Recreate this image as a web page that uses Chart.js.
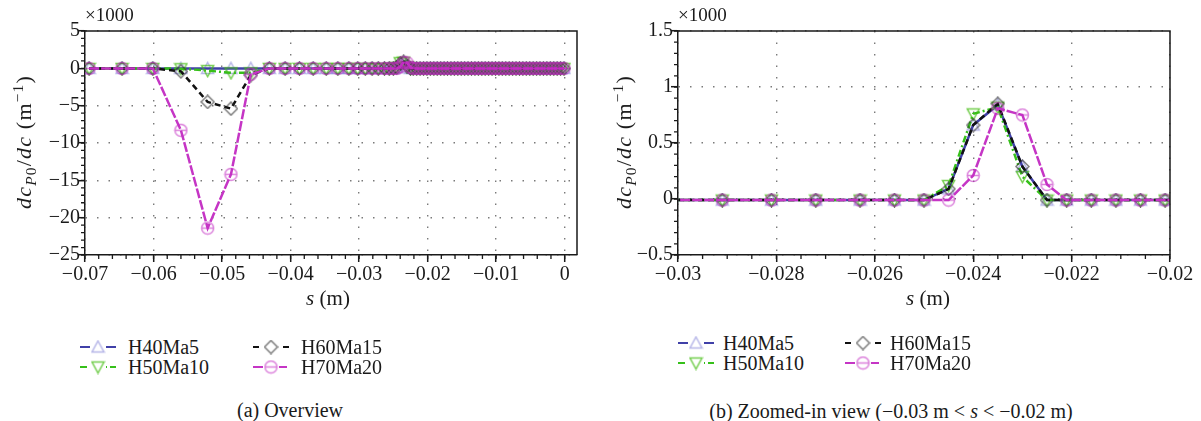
<!DOCTYPE html>
<html>
<head>
<meta charset="utf-8">
<script src="https://cdn.jsdelivr.net/npm/chart.js@4.4.0/dist/chart.umd.min.js"></script>
<style>
  body { margin: 0; background: #fff; width: 1201px; height: 421px; position: relative; overflow: hidden;
         font-family: "Liberation Serif", "DejaVu Serif", serif; color: #1a1a1a; }
  canvas.plot { position: absolute; top: 0; }
  .t { position: absolute; white-space: nowrap; line-height: 1; }
  .ytitle { font-size: 22px; letter-spacing: 1.2px; transform: translate(-50%, -50%) rotate(-90deg); }
  .xtitle { font-size: 21px; transform: translate(-50%, -50%); }
  .mult { font-size: 19px; }
  .cap { font-size: 20px; transform: translateX(-50%); }
  sub { font-size: 70%; vertical-align: -0.35em; line-height: 0; }
  sup { font-size: 70%; vertical-align: 0.55em; line-height: 0; }
  .leg { position: absolute; font-size: 20px; white-space: nowrap; line-height: 1; }
  .leg canvas { position: absolute; left: 0; top: -8px; }
  .leg span { position: absolute; top: -10px; }
</style>
</head>
<body>
<canvas id="overview" class="plot" width="600" height="300" style="left:0"></canvas>
<canvas id="zoomed" class="plot" width="601" height="300" style="left:600px"></canvas>

<div class="t mult" style="left:85px; top:5px">×1000</div>
<div class="t mult" style="left:678px; top:5px">×1000</div>
<div class="t ytitle" style="left:24px; top:142px"><i>dc</i><sub><i>P</i>0</sub>/<i>dc</i> (m<sup>−1</sup>)</div>
<div class="t ytitle" style="left:624px; top:142px"><i>dc</i><sub><i>P</i>0</sub>/<i>dc</i> (m<sup>−1</sup>)</div>
<div class="t xtitle" style="left:328px; top:298px"><i>s</i> (m)</div>
<div class="t xtitle" style="left:928px; top:298px"><i>s</i> (m)</div>
<div class="t cap" style="left:290px; top:400px">(a) Overview</div>
<div class="t cap" style="left:891px; top:401px">(b) Zoomed-in view (−0.03 m &lt; <i>s</i> &lt; −0.02 m)</div>
<div id="legA"></div>
<div id="legB"></div>

<script>
// arc-length positions s (m)
const sGrid = [
  -0.0694, -0.0646, -0.0601, -0.0560, -0.0521, -0.0487, -0.0458, -0.0431, -0.0408, -0.0387,
  -0.0367, -0.0348, -0.0331, -0.0315, -0.0302, -0.0291, -0.0281, -0.0272, -0.0263, -0.0256,
  -0.0250, -0.0245, -0.0240, -0.0235, -0.0230, -0.0225, -0.0221, -0.0216, -0.0211, -0.0206,
  -0.0201, -0.0196, -0.0191, -0.0186, -0.0181, -0.0176, -0.0171, -0.0166, -0.0161, -0.0156,
  -0.0151, -0.0146, -0.0141, -0.0136, -0.0131, -0.0126, -0.0121, -0.0116, -0.0111, -0.0106,
  -0.0101, -0.0096, -0.0091, -0.0086, -0.0081, -0.0076, -0.0071, -0.0066, -0.0061, -0.0056,
  -0.0051, -0.0046, -0.0041, -0.0036, -0.0031, -0.0026, -0.0021, -0.0016, -0.0011, -0.0006,
  -0.0001
];

// dcP0/dc in units of 1000 m^-1
const h40ma5 = [
  -0.01, -0.01, -0.01, -0.01, -0.02, -0.02, -0.01, -0.01, -0.01, -0.01,
  -0.01, -0.01, -0.01, -0.01, -0.01, -0.01, -0.01, -0.01, -0.01, -0.01,
  -0.01, 0.09, 0.66, 0.84, 0.29, -0.01, -0.01, -0.01, -0.01, -0.01,
  -0.01, -0.01, -0.01, -0.01, -0.01, -0.01, -0.01, -0.01, -0.01, -0.01,
  -0.01, -0.01, -0.01, -0.01, -0.01, -0.01, -0.01, -0.01, -0.01, -0.01,
  -0.01, -0.01, -0.01, -0.01, -0.01, -0.01, -0.01, -0.01, -0.01, -0.01,
  -0.01, -0.01, -0.01, -0.01, -0.01, -0.01, -0.01, -0.01, -0.01, -0.01,
  -0.01
];
const h50ma10 = [
  -0.01, -0.01, -0.01, -0.05, -0.3, -0.6, -0.6, -0.01, -0.01, -0.01,
  -0.01, -0.01, -0.01, -0.01, -0.01, -0.01, -0.01, -0.01, -0.01, -0.01,
  -0.01, 0.12, 0.76, 0.82, 0.20, -0.01, -0.01, -0.01, -0.01, -0.01,
  -0.01, -0.01, -0.01, -0.01, -0.01, -0.01, -0.01, -0.01, -0.01, -0.01,
  -0.01, -0.01, -0.01, -0.01, -0.01, -0.01, -0.01, -0.01, -0.01, -0.01,
  -0.01, -0.01, -0.01, -0.01, -0.01, -0.01, -0.01, -0.01, -0.01, -0.01,
  -0.01, -0.01, -0.01, -0.01, -0.01, -0.01, -0.01, -0.01, -0.01, -0.01,
  -0.01
];
const h60ma15 = [
  -0.01, -0.01, -0.01, -0.4, -4.5, -5.4, -0.9, -0.01, -0.01, -0.01,
  -0.01, -0.01, -0.01, -0.01, -0.01, -0.01, -0.01, -0.01, -0.01, -0.01,
  -0.01, 0.09, 0.66, 0.85, 0.29, -0.01, -0.01, -0.01, -0.01, -0.01,
  -0.01, -0.01, -0.01, -0.01, -0.01, -0.01, -0.01, -0.01, -0.01, -0.01,
  -0.01, -0.01, -0.01, -0.01, -0.01, -0.01, -0.01, -0.01, -0.01, -0.01,
  -0.01, -0.01, -0.01, -0.01, -0.01, -0.01, -0.01, -0.01, -0.01, -0.01,
  -0.01, -0.01, -0.01, -0.01, -0.01, -0.01, -0.01, -0.01, -0.01, -0.01,
  -0.01
];
const h70ma20 = [
  -0.01, -0.01, -0.01, -8.3, -21.4, -14.2, -0.8, -0.01, -0.01, -0.01,
  -0.01, -0.01, -0.01, -0.01, -0.01, -0.01, -0.01, -0.01, -0.01, -0.01,
  -0.01, -0.01, 0.21, 0.81, 0.75, 0.13, -0.01, -0.01, -0.01, -0.01,
  -0.01, -0.01, -0.01, -0.01, -0.01, -0.01, -0.01, -0.01, -0.01, -0.01,
  -0.01, -0.01, -0.01, -0.01, -0.01, -0.01, -0.01, -0.01, -0.01, -0.01,
  -0.01, -0.01, -0.01, -0.01, -0.01, -0.01, -0.01, -0.01, -0.01, -0.01,
  -0.01, -0.01, -0.01, -0.01, -0.01, -0.01, -0.01, -0.01, -0.01, -0.01,
  -0.01
];
const seriesNames = ['H40Ma5', 'H50Ma10', 'H60Ma15', 'H70Ma20'];

// tick labels
const xTicksA = [-0.07, -0.06, -0.05, -0.04, -0.03, -0.02, -0.01, 0];
const yTicksA = [5, 0, -5, -10, -15, -20, -25];
const xTicksB = [-0.03, -0.028, -0.026, -0.024, -0.022, -0.02];
const yTicksB = [1.5, 1, 0.5, 0, -0.5];

// line + marker look of each case
const looks = [
  { line: '#4040a8', dash: [], marker: 'up', mcol: 'rgba(80,80,200,0.42)', order: 4 },
  { line: '#36c01a', dash: [7, 3, 2, 3], marker: 'down', mcol: 'rgba(70,190,20,0.75)', order: 3 },
  { line: '#111111', dash: [6, 4], marker: 'diamond', mcol: 'rgba(40,40,40,0.62)', order: 2 },
  { line: '#c535c5', dash: [10, 2], marker: 'circleMinus', mcol: 'rgba(195,45,195,0.6)', order: 1 }
];

function makeMarker(kind, color) {
  const c = document.createElement('canvas');
  c.width = 15; c.height = 15;
  const g = c.getContext('2d');
  g.strokeStyle = color;
  g.lineWidth = 1.5;
  g.beginPath();
  if (kind === 'up') {
    g.moveTo(7.5, 1.5); g.lineTo(13.5, 12.5); g.lineTo(1.5, 12.5); g.closePath();
  } else if (kind === 'down') {
    g.moveTo(1.5, 2.5); g.lineTo(13.5, 2.5); g.lineTo(7.5, 13.5); g.closePath();
  } else if (kind === 'diamond') {
    g.moveTo(7.5, 1); g.lineTo(14, 7.5); g.lineTo(7.5, 14); g.lineTo(1, 7.5); g.closePath();
  } else {
    g.arc(7.5, 7.5, 6, 0, Math.PI * 2);
    g.moveTo(1.5, 7.5); g.lineTo(13.5, 7.5);
  }
  g.stroke();
  return c;
}
const markers = looks.map(l => makeMarker(l.marker, l.mcol));

const allSeries = [h40ma5, h50ma10, h60ma15, h70ma20];

function datasets() {
  return allSeries.map((vals, i) => ({
    label: seriesNames[i],
    data: sGrid.map((s, k) => ({ x: s, y: vals[k] })),
    borderColor: looks[i].line,
    borderWidth: 2.5,
    borderDash: looks[i].dash,
    pointStyle: markers[i],
    order: looks[i].order,
    tension: 0,
    fill: false
  }));
}

const fmt = v => (Math.abs(v) < 1e-12 ? '0' : String(+v.toFixed(4)).replace('-', '\u2212'));
const tickFont = { family: "'Liberation Serif', serif", size: 20 };

// top/right frame plus the small minor ticks
const frame = {
  id: 'frame',
  afterDraw(chart, args, opts) {
    const { ctx, chartArea: a, scales: { x, y } } = chart;
    ctx.save();
    ctx.strokeStyle = '#1a1a1a';
    ctx.lineWidth = 1.5;
    ctx.beginPath();
    ctx.moveTo(a.left, a.top); ctx.lineTo(a.right, a.top); ctx.lineTo(a.right, a.bottom);
    ctx.stroke();
    ctx.lineWidth = 1.3;
    ctx.beginPath();
    for (let k = Math.ceil(x.min / opts.xStep - 1e-6); k * opts.xStep <= x.max + 1e-9; k++) {
      const px = x.getPixelForValue(k * opts.xStep);
      ctx.moveTo(px, a.bottom); ctx.lineTo(px, a.bottom + 4);
    }
    for (let k = Math.ceil(y.min / opts.yStep - 1e-6); k * opts.yStep <= y.max + 1e-9; k++) {
      const py = y.getPixelForValue(k * opts.yStep);
      ctx.moveTo(a.left, py); ctx.lineTo(a.left - 4, py);
    }
    ctx.stroke();
    ctx.restore();
  }
};

function axis(min, max, ticks, fitSize, horizontal) {
  return {
    type: 'linear',
    min: min,
    max: max,
    afterBuildTicks: sc => { sc.ticks = ticks.map(v => ({ value: v })); },
    afterFit: sc => { if (horizontal) sc.height = fitSize; else sc.width = fitSize; },
    ticks: { callback: v => fmt(v), font: tickFont, color: '#1a1a1a', padding: horizontal ? 1 : -2,
             maxRotation: 0, autoSkip: false },
    grid: { color: '#7a7a7a', lineWidth: 1.4, tickColor: '#1a1a1a', tickLength: 7, tickWidth: 1.5,
            tickBorderDash: [] },
    border: { color: '#1a1a1a', width: 1.5, dash: [1.5, 10] }
  };
}

function makeChart(id, xr, yr, xTicks, yTicks, yWidth, padRight, minor) {
  return new Chart(document.getElementById(id), {
    type: 'line',
    data: { datasets: datasets() },
    options: {
      responsive: false,
      animation: false,
      events: [],
      layout: { padding: { top: 31, right: padRight, left: 0, bottom: 0 } },
      scales: {
        x: axis(xr[0], xr[1], xTicks, 45, true),
        y: axis(yr[0], yr[1], yTicks, yWidth, false)
      },
      plugins: { legend: { display: false }, tooltip: { enabled: false }, frame: minor }
    },
    plugins: [frame]
  });
}

makeChart('overview', [-0.07, 0.0018], [-25, 5], xTicksA, yTicksA, 85, 23, { xStep: 0.002, yStep: 1 });
makeChart('zoomed', [-0.03, -0.02], [-0.5, 1.5], xTicksB, yTicksB, 78, 31, { xStep: 0.0005, yStep: 0.1 });

// two-column legends below each panel
function legend(el, x0, y0, colGap, textGap) {
  seriesNames.forEach((name, i) => {
    const item = document.createElement('div');
    item.className = 'leg';
    item.style.left = (x0 + Math.floor(i / 2) * colGap) + 'px';
    item.style.top = (y0 + (i % 2) * 20) + 'px';
    const c = document.createElement('canvas');
    c.width = 36; c.height = 16;
    const g = c.getContext('2d');
    g.strokeStyle = looks[i].line;
    g.lineWidth = 2;
    g.setLineDash(looks[i].dash);
    g.beginPath(); g.moveTo(0, 8); g.lineTo(36, 8); g.stroke();
    g.clearRect(10, 1, 16, 14);
    g.drawImage(markers[i], 10.5, 0.5);
    const t = document.createElement('span');
    t.style.left = textGap + 'px';
    t.textContent = name;
    item.appendChild(c);
    item.appendChild(t);
    el.appendChild(item);
  });
}
legend(document.getElementById('legA'), 80, 347, 173, 48);
legend(document.getElementById('legB'), 678, 343, 167, 45);
</script>
</body>
</html>
